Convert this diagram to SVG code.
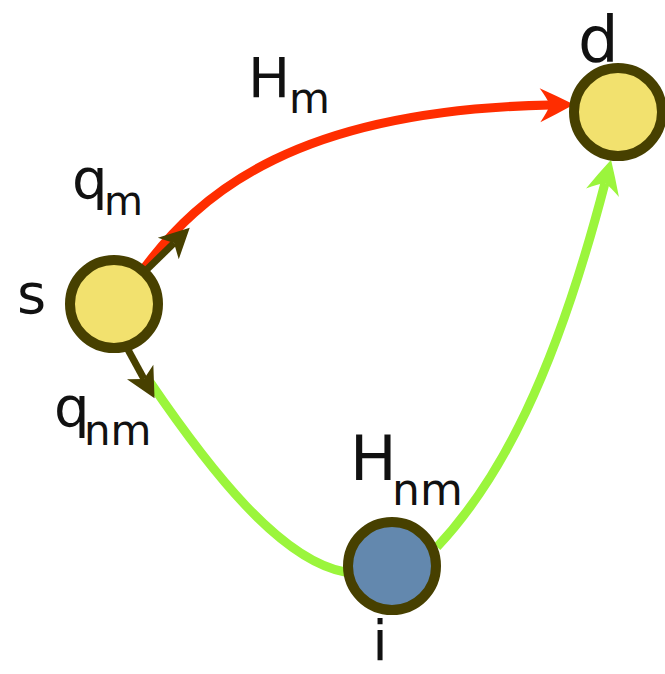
<svg xmlns="http://www.w3.org/2000/svg" width="665" height="674" viewBox="0 0 665 674">
<style>
.node{stroke:#474000;stroke-width:10}
.y{fill:#F2E16E}
.b{fill:#6388AE}
.lbl{font-family:"DejaVu Sans","Liberation Sans",sans-serif;fill:#111}
.edge{fill:none;stroke-linecap:butt}
</style>
<defs>
<marker id="hr" markerUnits="userSpaceOnUse" markerWidth="40" markerHeight="40" refX="10" refY="17" orient="auto" overflow="visible">
<path d="M34,17 Q17,8 0,0 Q7,10 10,17 Q7,24 0,34 Q17,26 34,17 Z" fill="#FF2D00"/>
</marker>
<marker id="hg" markerUnits="userSpaceOnUse" markerWidth="40" markerHeight="40" refX="10" refY="17" orient="auto" overflow="visible">
<path d="M34,17 Q17,8 0,0 Q7,10 10,17 Q7,24 0,34 Q17,26 34,17 Z" fill="#9BF53C"/>
</marker>
<marker id="hd" markerUnits="userSpaceOnUse" markerWidth="34" markerHeight="34" refX="8" refY="15" orient="auto" overflow="visible">
<path d="M30,15 L0,0 L8,15 L0,30 Z" fill="#474000"/>
</marker>
</defs>
<g id="connectors">
<path id="e-s-d" class="edge" d="M140,274 C200,190 300,110 550,105" stroke="#FF2D00" stroke-width="9" marker-end="url(#hr)"/>
<path id="e-s-i" class="edge" d="M150,382 C210,470 280,560 345,572" stroke="#9BF53C" stroke-width="9"/>
<path id="e-i-d" class="edge" d="M437,547 C500,480 555,375 605,183" stroke="#9BF53C" stroke-width="9" marker-end="url(#hg)"/>
<path id="q-m" class="edge" d="M132,284 L174,243" stroke="#474000" stroke-width="7" marker-end="url(#hd)"/>
<path id="q-nm" class="edge" d="M126,346 L144,379" stroke="#474000" stroke-width="7" marker-end="url(#hd)"/>
</g>
<g id="node-s">
<circle class="node y" cx="114" cy="304" r="44"/>
<text class="lbl" x="17" y="313" font-size="56">s</text>
</g>
<g id="node-d">
<circle class="node y" cx="618" cy="112" r="44"/>
<text class="lbl" x="578" y="62" font-size="64">d</text>
</g>
<g id="node-i">
<circle class="node b" cx="392" cy="566" r="44"/>
<text class="lbl" x="380" y="660" font-size="56" text-anchor="middle">i</text>
</g>
<g id="labels">
<text class="lbl" x="248" y="97" font-size="56">H<tspan x="289" y="113" font-size="42">m</tspan></text>
<text class="lbl" x="72" y="198" font-size="56">q<tspan x="104" y="215" font-size="40">m</tspan></text>
<text class="lbl" x="54" y="426" font-size="56">q<tspan x="84" y="445" font-size="42">nm</tspan></text>
<text class="lbl" x="350" y="480" font-size="62">H<tspan x="392" y="505" font-size="44">nm</tspan></text>
</g>
</svg>
